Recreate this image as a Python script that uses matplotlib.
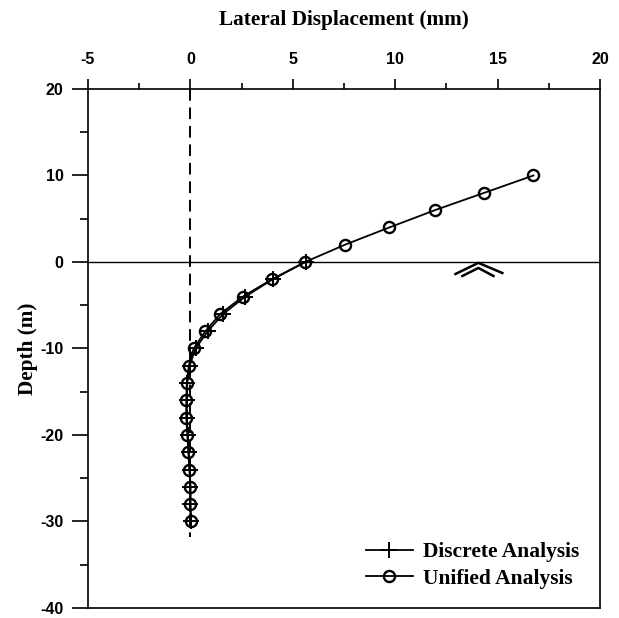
import matplotlib
matplotlib.use("Agg")
import matplotlib.pyplot as plt
from matplotlib.ticker import MultipleLocator

plt.rcParams["axes.unicode_minus"] = False

# Pile lateral displacement profiles
unified_depth = [10, 8, 6, 4, 2, 0, -2, -4, -6, -8, -10, -12, -14, -16, -18,
                 -20, -22, -24, -26, -28, -30]
unified_disp = [16.75, 14.35, 11.95, 9.72, 7.55, 5.6, 3.98, 2.56, 1.46, 0.73,
                0.16, -0.08, -0.18, -0.2, -0.2, -0.15, -0.1, -0.05, 0.0, 0.0, 0.02]

discrete_depth = [0, -2, -4, -6, -8, -10, -12, -14, -16, -18, -20, -22, -24,
                  -26, -28, -30]
discrete_disp = [5.62, 4.02, 2.68, 1.6, 0.85, 0.25, -0.04, -0.15, -0.18, -0.18,
                 -0.13, -0.08, -0.04, 0.0, 0.0, 0.02]

x_ticks = [-5, 0, 5, 10, 15, 20]
y_ticks = [20, 10, 0, -10, -20, -30, -40]

# Ground-surface symbol (double chevron) under the ground line
ground_outer_x = [12.94, 14.06, 15.23]
ground_outer_y = [-1.39, -0.1, -1.27]
ground_inner_x = [13.28, 14.06, 14.8]
ground_inner_y = [-1.62, -0.69, -1.62]

serif_bold = dict(family="Liberation Serif", weight="bold")

fig = plt.figure(figsize=(6.19, 6.18), dpi=100)
ax = fig.add_axes([0.1422, 0.0162, 0.8271, 0.8398])

ax.set_xlim(-5, 20)
ax.set_ylim(-40, 20)

# reference lines: zero displacement and ground surface
ax.plot([0, 0], [20, -31.8], color="black", lw=1.4, ls=(0, (6, 3.5)), zorder=1)
ax.axhline(0, color="black", lw=1.0, zorder=1)

ax.plot(ground_outer_x, ground_outer_y, color="black", lw=1.8, zorder=2)
ax.plot(ground_inner_x, ground_inner_y, color="black", lw=1.8, zorder=2)

ax.plot(discrete_disp, discrete_depth, color="black", lw=1.3, marker="+",
        markersize=11, markeredgewidth=1.4, label="Discrete Analysis", zorder=3)
ax.plot(unified_disp, unified_depth, color="black", lw=1.3, marker="o",
        markersize=8, markerfacecolor="none", markeredgewidth=1.7,
        label="Unified Analysis", zorder=4)

# axes styling: x axis on top, ticks pointing outward
ax.xaxis.set_ticks_position("top")
ax.xaxis.set_label_position("top")
ax.set_xticks(x_ticks)
ax.set_yticks(y_ticks)
ax.xaxis.set_minor_locator(MultipleLocator(2.5))
ax.yaxis.set_minor_locator(MultipleLocator(5))
ax.tick_params(axis="x", which="major", direction="out", length=7, width=1.2,
               pad=9)
ax.tick_params(axis="x", which="minor", direction="out", length=4.5, width=1.2)
ax.tick_params(axis="y", which="major", direction="out", length=11.5, width=1.2,
               pad=6)
ax.tick_params(axis="y", which="minor", direction="out", length=6, width=1.2)
for lab in ax.get_xticklabels() + ax.get_yticklabels():
    lab.set_family("Liberation Sans")
    lab.set_fontweight("bold")
    lab.set_fontsize(11.5)

for sp in ax.spines.values():
    sp.set_linewidth(1.2)

ax.set_xlabel("Lateral Displacement (mm)", fontsize=15.3, labelpad=19, **serif_bold)
ax.set_ylabel("Depth (m)", fontsize=15.3, labelpad=2, **serif_bold)

leg = ax.legend(loc="lower right", bbox_to_anchor=(0.997, 0.0), frameon=False,
                prop=dict(family="Liberation Serif", weight="bold", size=15.5),
                handlelength=2.2, handletextpad=0.45, labelspacing=0.3)

fig.savefig("out.png", dpi=100)
